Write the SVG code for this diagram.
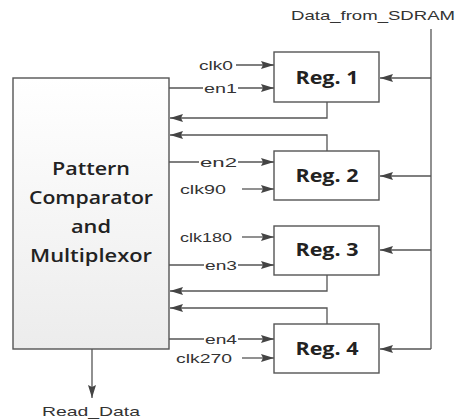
<svg xmlns="http://www.w3.org/2000/svg" width="470" height="420" viewBox="0 0 470 420">
  <style>
    .box { stroke: #555; stroke-width: 1.4; }
    .reg { fill: #ffffff; }
    .wire { fill: none; stroke: #555; stroke-width: 1.3; }
    .arr { marker-end: url(#ah); }
    .lbl { font-family: "Liberation Sans", Arial, sans-serif; font-size: 13px; fill: #333; }
    .big { font-family: "Open Sans", "Liberation Sans", sans-serif; font-size: 18px; font-weight: 600; fill: #222; text-anchor: middle; }
    .regt { font-family: "Open Sans", "Liberation Sans", sans-serif; font-size: 18px; font-weight: 700; fill: #222; text-anchor: middle; }
    .bg { fill: #ffffff; }
  </style>
  <defs>
    <linearGradient id="pcm" x1="0" y1="0" x2="0" y2="1">
      <stop offset="0" stop-color="#ffffff"/>
      <stop offset="1" stop-color="#ececec"/>
    </linearGradient>
    <marker id="ah" markerWidth="14" markerHeight="10" refX="13" refY="5" orient="auto" markerUnits="userSpaceOnUse">
      <path d="M0,1 L13,5 L0,9 L2,5 Z" fill="#444"/>
    </marker>
  </defs>

  <rect width="470" height="420" fill="#ffffff"/>

  <!-- connectors -->
  <g id="connectors">
    <!-- data bus -->
    <path class="wire" d="M431,29 V349"/>
    <path class="wire arr" d="M431,78 H380"/>
    <path class="wire arr" d="M431,176 H380"/>
    <path class="wire arr" d="M431,250 H380"/>
    <path class="wire arr" d="M431,349 H380"/>
    <!-- clocks and enables -->
    <path class="wire arr" d="M236,65 H274"/>
    <path class="wire arr" d="M169,88 H274"/>
    <path class="wire arr" d="M169,162 H274"/>
    <path class="wire arr" d="M242,189 H274"/>
    <path class="wire arr" d="M242,237 H274"/>
    <path class="wire arr" d="M169,265 H274"/>
    <path class="wire arr" d="M169,339 H274"/>
    <path class="wire arr" d="M242,358 H274"/>
    <!-- register outputs back to comparator -->
    <path class="wire arr" d="M327,102 V118 H170"/>
    <path class="wire arr" d="M327,151 V135 H170"/>
    <path class="wire arr" d="M327,275 V291 H170"/>
    <path class="wire arr" d="M327,324 V308 H170"/>
    <!-- read data out -->
    <path class="wire arr" d="M92,349 V398"/>
  </g>

  <!-- comparator / multiplexor -->
  <g id="pcm-block">
    <rect class="box" x="13" y="78" width="156" height="271" fill="url(#pcm)"/>
    <text class="big" x="91" y="175" textLength="78" lengthAdjust="spacingAndGlyphs">Pattern</text>
    <text class="big" x="91" y="204" textLength="124" lengthAdjust="spacingAndGlyphs">Comparator</text>
    <text class="big" x="91" y="233" textLength="40" lengthAdjust="spacingAndGlyphs">and</text>
    <text class="big" x="91" y="262" textLength="122" lengthAdjust="spacingAndGlyphs">Multiplexor</text>
  </g>

  <g id="reg1">
    <rect class="box reg" x="274" y="52" width="105" height="50"/>
    <text class="regt" x="327" y="84" textLength="63" lengthAdjust="spacingAndGlyphs">Reg. 1</text>
  </g>
  <g id="reg2">
    <rect class="box reg" x="274" y="151" width="105" height="49"/>
    <text class="regt" x="327" y="182" textLength="63" lengthAdjust="spacingAndGlyphs">Reg. 2</text>
  </g>
  <g id="reg3">
    <rect class="box reg" x="274" y="226" width="105" height="49"/>
    <text class="regt" x="327" y="256" textLength="63" lengthAdjust="spacingAndGlyphs">Reg. 3</text>
  </g>
  <g id="reg4">
    <rect class="box reg" x="274" y="324" width="105" height="49"/>
    <text class="regt" x="327" y="355" textLength="63" lengthAdjust="spacingAndGlyphs">Reg. 4</text>
  </g>

  <!-- signal labels -->
  <g id="labels">
    <text class="lbl" x="291" y="20" textLength="164" lengthAdjust="spacingAndGlyphs">Data_from_SDRAM</text>
    <text class="lbl" x="199" y="70" textLength="34" lengthAdjust="spacingAndGlyphs">clk0</text>
    <rect class="bg" x="203" y="81" width="35" height="14"/>
    <text class="lbl" x="204" y="93" textLength="33" lengthAdjust="spacingAndGlyphs">en1</text>
    <rect class="bg" x="199" y="155" width="39" height="14"/>
    <text class="lbl" x="200" y="167" textLength="37" lengthAdjust="spacingAndGlyphs">en2</text>
    <text class="lbl" x="180" y="194" textLength="46" lengthAdjust="spacingAndGlyphs">clk90</text>
    <text class="lbl" x="180" y="242" textLength="52" lengthAdjust="spacingAndGlyphs">clk180</text>
    <rect class="bg" x="204" y="258" width="34" height="14"/>
    <text class="lbl" x="205" y="270" textLength="32" lengthAdjust="spacingAndGlyphs">en3</text>
    <rect class="bg" x="204" y="332" width="34" height="14"/>
    <text class="lbl" x="205" y="344" textLength="32" lengthAdjust="spacingAndGlyphs">en4</text>
    <text class="lbl" x="176" y="363" textLength="56" lengthAdjust="spacingAndGlyphs">clk270</text>
    <text class="lbl" x="42" y="416" textLength="98" lengthAdjust="spacingAndGlyphs">Read_Data</text>
  </g>
</svg>
